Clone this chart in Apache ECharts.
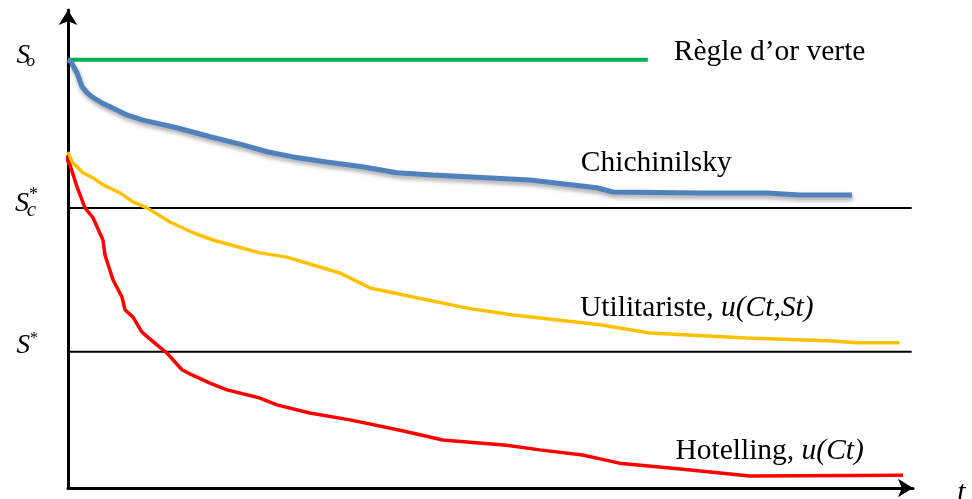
<!DOCTYPE html>
<html><head><meta charset="utf-8">
<script src="https://cdn.jsdelivr.net/npm/echarts@6/dist/echarts.min.js"></script>
<style>html,body{margin:0;padding:0;background:#fff}#c{width:972px;height:499px}</style>
</head><body><div id="c"></div>
<script>
// Levels (stock)
var S0 = 100, SC = 65.4, SSTAR = 31.8;
// Green golden rule: [t, S]
var green = [[0, 100], [69.3, 100]];
// Chichinilsky
var blue = [[0,100],[0.36,99.5],[1.08,96.9],[1.67,93.7],[2.27,92.3],[2.87,91.3],[3.46,90.6],[4.06,89.9],[5.02,89.0],[7.05,87.1],[8.96,85.9],[13.0,84.1],[17.0,82.0],[20.9,80.1],[23.8,78.5],[26.9,77.3],[30.9,76.1],[35.2,75.0],[39.3,73.6],[43.6,73.1],[55.2,71.9],[63.2,70.1],[65.1,69.1],[75.5,68.9],[83.5,68.9],[87.5,68.4],[93.7,68.4]];
// Utilitariste
var yellow = [[0,78.5],[0.48,76.1],[1.79,73.6],[2.99,72.4],[4.18,70.8],[6.21,68.9],[7.77,66.8],[9.44,65.4],[12.19,62.1],[14.93,59.6],[17.32,57.9],[22.94,54.9],[26.16,53.9],[30.1,51.6],[32.5,50.2],[34.9,47.9],[36.1,46.7],[41.7,44.4],[47.7,42.0],[53.2,40.4],[56.4,39.7],[63.6,38.1],[69.5,36.2],[81.1,35.0],[91.4,34.3],[94.3,33.9],[99.4,33.9]];
// Hotelling
var red = [[-0.36,77.5],[0.24,75.4],[1.08,70.3],[2.03,65.4],[2.99,63.1],[4.18,57.9],[4.42,54.4],[5.38,48.6],[6.45,44.6],[6.81,41.6],[7.77,39.9],[8.84,36.4],[10.63,33.4],[11.83,31.5],[13.62,27.6],[14.81,26.4],[16.97,24.5],[19.0,22.9],[22.94,21.0],[24.97,19.4],[28.9,17.5],[33.7,15.9],[39.7,13.5],[44.8,11.2],[52.4,10.0],[56.4,8.9],[61.5,7.7],[65.9,5.8],[73.5,4.4],[81.5,2.8],[99.8,3.0]];
var names = ['Règle d\u2019or verte', 'Chichinilsky', 'Utilitariste, ', 'Hotelling, '];

var chart = echarts.init(document.getElementById('c'), null, {renderer: 'canvas'});
var FONT = '"Liberation Serif", "DejaVu Serif", serif';
var FS = 29.5;
var txt = {color: '#000', fontFamily: FONT, fontSize: FS};
var it = {color: '#000', fontFamily: FONT, fontSize: FS, fontStyle: 'italic'};

// a single glyph label left of the y axis at level v
function glyph(v, text, size, italic, dist, dy) {
  return {value: [0, v], label: {show: true, position: 'left', distance: dist, offset: [0, dy],
    formatter: text, color: '#000', fontFamily: FONT, fontSize: size, fontStyle: italic ? 'italic' : 'normal'}};
}
function note(x, y, fmt) {
  return {value: [x, y], label: {show: true, position: 'right', distance: 0, formatter: fmt, rich: {a: txt, b: it}}};
}

var option = {
  animation: false,
  backgroundColor: '#fff',
  grid: {left: 68, right: 59, top: 10, bottom: 11},
  xAxis: {type: 'value', min: 0, max: 101,
    axisLine: {show: true, onZero: true, symbol: ['none', 'arrow'], symbolSize: [14, 15], lineStyle: {color: '#000', width: 3}},
    axisTick: {show: false}, axisLabel: {show: false}, splitLine: {show: false}},
  yAxis: {type: 'value', min: 0, max: 111.6,
    axisLine: {show: true, symbol: ['none', 'arrow'], symbolSize: [14, 15], lineStyle: {color: '#000', width: 3}},
    axisTick: {show: false}, axisLabel: {show: false}, splitLine: {show: false}},
  series: [
    {type: 'line', data: [[-0.8, SC], [100.84, SC]], showSymbol: false, clip: false, silent: true,
      lineStyle: {color: '#000', width: 2}},
    {type: 'line', data: [[-0.8, SSTAR], [100.84, SSTAR]], showSymbol: false, clip: false, silent: true,
      lineStyle: {color: '#000', width: 2}},
    {type: 'line', name: names[0], data: green, showSymbol: false, lineStyle: {color: '#00B050', width: 4},
      endLabel: {show: true, formatter: names[0], color: '#000', fontFamily: FONT, fontSize: FS, distance: 26, offset: [0, -7]}},
    {type: 'line', name: names[1], data: blue, showSymbol: false,
      lineStyle: {color: '#4F81BD', width: 5, shadowColor: 'rgba(0,0,0,0.35)', shadowBlur: 4, shadowOffsetX: 1, shadowOffsetY: 3}},
    {type: 'line', name: names[2], data: yellow, showSymbol: false, lineStyle: {color: '#FFC000', width: 3.5}},
    {type: 'line', name: names[3], data: red, showSymbol: false, clip: false, lineStyle: {color: '#FF0000', width: 3.5}},
    {type: 'scatter', symbolSize: 0, clip: false, silent: true, itemStyle: {opacity: 1},
      data: [
        glyph(S0, 'S', 27, true, 38, -4),
        glyph(S0, 'o', 17, true, 33, 2),
        glyph(SC, 'S', 28, true, 39, -4),
        glyph(SC, 'c', 21, true, 32, 3),
        glyph(SC, '*', 18, false, 30, -13),
        glyph(SSTAR, 'S', 27, true, 38, -6),
        glyph(SSTAR, '*', 16, false, 30, -13),
        {value: [61.3, 75.9], label: {show: true, position: 'right', distance: 0, formatter: '{a|' + names[1] + '}', rich: {a: txt}}},
        note(61.2, 42.0, '{a|' + names[2] + '}{b|u(Ct,St)}'),
        note(72.6, 8.5, '{a|' + names[3] + '}{b|u(Ct)}'),
        note(106.3, -1.2, '{b|t}')
      ]}
  ]
};
chart.setOption(option);
</script></body></html>
